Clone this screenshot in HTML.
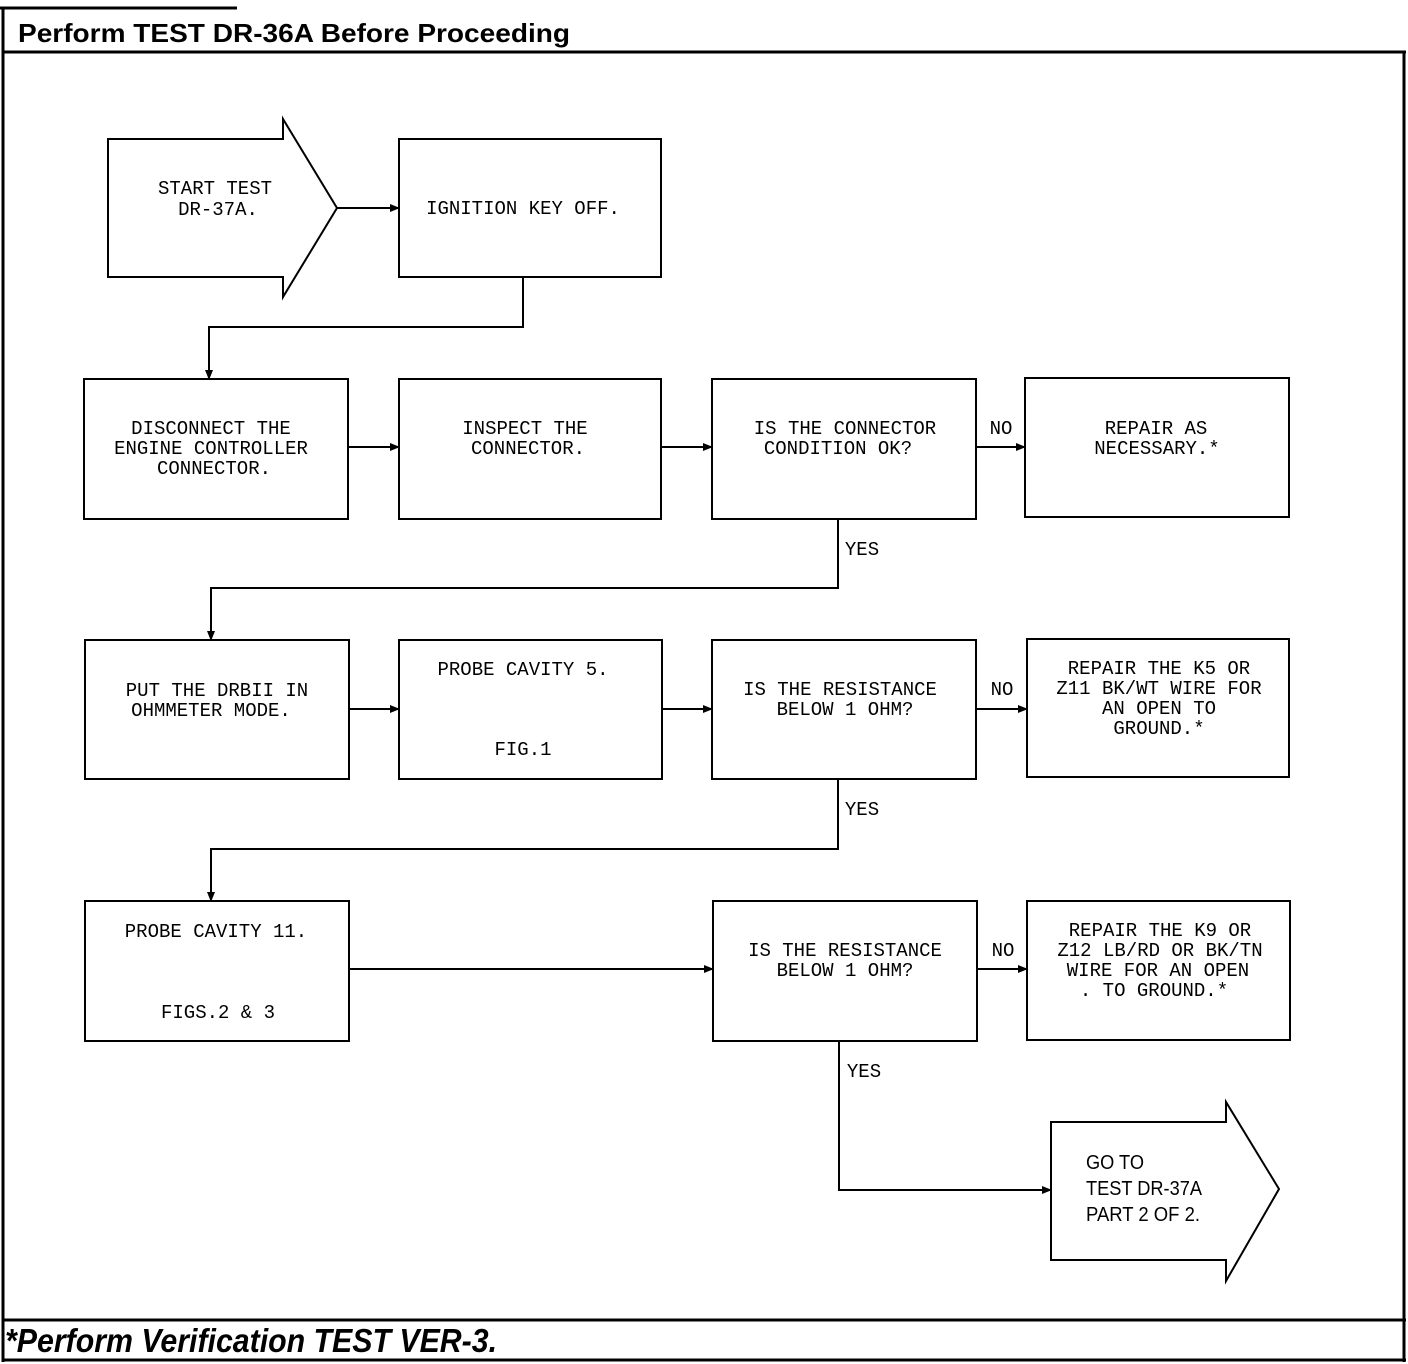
<!DOCTYPE html>
<html><head><meta charset="utf-8"><style>
html,body{margin:0;padding:0;background:#fff;}
svg{display:block;}
.m{font-family:"Liberation Mono",monospace;font-size:19px;fill:#000;text-anchor:middle;}
</style></head><body>
<svg width="1408" height="1364" viewBox="0 0 1408 1364" xmlns="http://www.w3.org/2000/svg">
<defs>
<marker id="a" markerWidth="10" markerHeight="8" refX="9" refY="4" orient="auto" markerUnits="userSpaceOnUse">
<path d="M0,0 L10,4 L0,8 Z" fill="#000"/></marker>
</defs>
<g fill="none" stroke="#000" stroke-width="3">
<path d="M0,8 H237"/>
<path d="M3,8 V1362"/>
<path d="M3,52 H1406"/>
<path d="M1404,52 V1362"/>
<path d="M3,1320 H1406"/>
<path d="M3,1360 H1406"/>
</g>
<text x="18" y="42" textLength="552" lengthAdjust="spacingAndGlyphs" style="font-family:'Liberation Sans',sans-serif;font-weight:bold;font-size:26px">Perform TEST DR-36A Before Proceeding</text>
<text x="5" y="1352" textLength="492" lengthAdjust="spacingAndGlyphs" style="font-family:'Liberation Sans',sans-serif;font-weight:bold;font-style:italic;font-size:33px">*Perform Verification TEST VER-3.</text>

<g fill="none" stroke="#000" stroke-width="2">
<path d="M108,139 H283 V119 L337,208 L283,297 V277 H108 Z"/>
<rect x="399" y="139" width="262" height="138"/>
<rect x="84" y="379" width="264" height="140"/>
<rect x="399" y="379" width="262" height="140"/>
<rect x="712" y="379" width="264" height="140"/>
<rect x="1025" y="378" width="264" height="139"/>
<rect x="85" y="640" width="264" height="139"/>
<rect x="399" y="640" width="263" height="139"/>
<rect x="712" y="640" width="264" height="139"/>
<rect x="1027" y="639" width="262" height="138"/>
<rect x="85" y="901" width="264" height="140"/>
<rect x="713" y="901" width="264" height="140"/>
<rect x="1027" y="901" width="263" height="139"/>
<path d="M1051,1122 H1226 V1102 L1279,1189 L1226,1281 V1260 H1051 Z"/>
</g>
<g fill="none" stroke="#000" stroke-width="2" marker-end="url(#a)">
<path d="M337,208 H399"/>
<path d="M523,277 V327 H209 V379"/>
<path d="M348,447 H399"/>
<path d="M661,447 H712"/>
<path d="M976,447 H1025"/>
<path d="M838,519 V588 H211 V640"/>
<path d="M349,709 H399"/>
<path d="M662,709 H712"/>
<path d="M976,709 H1027"/>
<path d="M838,779 V849 H211 V901"/>
<path d="M349,969 H713"/>
<path d="M977,969 H1027"/>
<path d="M839,1041 V1190 H1051"/>
</g>

<g class="m">
<text x="215" y="194">START TEST</text>
<text x="218" y="215">DR-37A.</text>
<text x="523" y="214">IGNITION KEY OFF.</text>
<text x="211" y="434">DISCONNECT THE</text>
<text x="211" y="454">ENGINE CONTROLLER</text>
<text x="214" y="474">CONNECTOR.</text>
<text x="525" y="434">INSPECT THE</text>
<text x="528" y="454">CONNECTOR.</text>
<text x="845" y="434">IS THE CONNECTOR</text>
<text x="838" y="454">CONDITION OK?</text>
<text x="1156" y="434">REPAIR AS</text>
<text x="1157" y="454">NECESSARY.*</text>
<text x="217" y="696">PUT THE DRBII IN</text>
<text x="211" y="716">OHMMETER MODE.</text>
<text x="523" y="675">PROBE CAVITY 5.</text>
<text x="523" y="755">FIG.1</text>
<text x="840" y="695">IS THE RESISTANCE</text>
<text x="845" y="715">BELOW 1 OHM?</text>
<text x="1159" y="674">REPAIR THE K5 OR</text>
<text x="1159" y="694">Z11 BK/WT WIRE FOR</text>
<text x="1159" y="714">AN OPEN TO</text>
<text x="1159" y="734">GROUND.*</text>
<text x="216" y="937">PROBE CAVITY 11.</text>
<text x="218" y="1018">FIGS.2 &amp; 3</text>
<text x="845" y="956">IS THE RESISTANCE</text>
<text x="845" y="976">BELOW 1 OHM?</text>
<text x="1160" y="936">REPAIR THE K9 OR</text>
<text x="1160" y="956">Z12 LB/RD OR BK/TN</text>
<text x="1158" y="976">WIRE FOR AN OPEN</text>
<text x="1154" y="996">. TO GROUND.*</text>
<text x="1001" y="434">NO</text>
<text x="1002" y="695">NO</text>
<text x="1003" y="956">NO</text>
<text x="862" y="555">YES</text>
<text x="862" y="815">YES</text>
<text x="864" y="1077">YES</text>
</g>
<g style="font-family:'Liberation Sans',sans-serif;font-size:20px" fill="#000">
<text x="1086" y="1169" textLength="58" lengthAdjust="spacingAndGlyphs">GO TO</text>
<text x="1086" y="1195" textLength="116" lengthAdjust="spacingAndGlyphs">TEST DR-37A</text>
<text x="1086" y="1221" textLength="114" lengthAdjust="spacingAndGlyphs">PART 2 OF 2.</text>
</g>
</svg>
</body></html>
